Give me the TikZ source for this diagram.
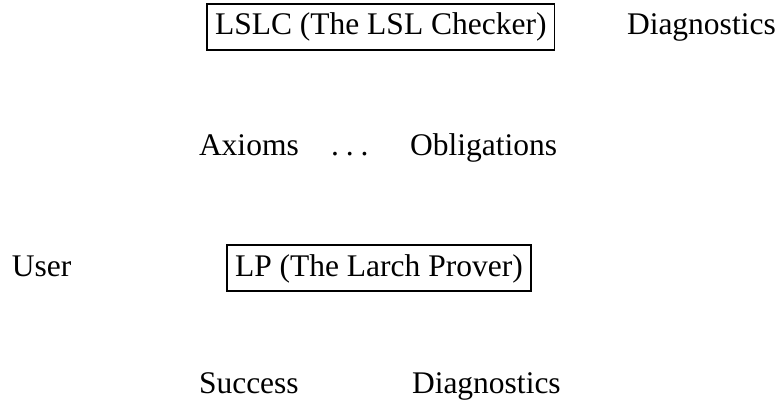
\documentclass[tikz,border=0pt]{standalone}
\usepackage{fontspec}
\setmainfont{Liberation Serif}
\begin{document}
\begin{tikzpicture}[x=1pt,y=-1pt,
  lbl/.style={anchor=base west, inner sep=0pt, outer sep=0pt, font=\fontsize{31.5}{36}\selectfont},
  boxed/.style={lbl, draw, line width=1.6pt, inner xsep=8pt, inner ysep=9pt, text height=22pt, text depth=6pt}]
\useasboundingbox (0,0) rectangle (778,401);
% row 1
\node[boxed] (lslc) at (207,35) {LSLC (The LSL Checker)};
\node[lbl] (diag1) at (627,35) {Diagnostics};
% row 2
\node[lbl] (axioms) at (199,155) {Axioms};
\node[lbl] (dots) at (331,155) {.\hspace{0.22em}.\hspace{0.22em}.};
\node[lbl] (oblig) at (410,155) {Obligations};
% row 3
\node[lbl] (user) at (12,276) {User};
\node[boxed] (lp) at (227,276) {LP (The Larch Prover)};
% row 4
\node[lbl] (success) at (199,393) {Success};
\node[lbl] (diag2) at (412,393) {Diagnostics};
\end{tikzpicture}
\end{document}
